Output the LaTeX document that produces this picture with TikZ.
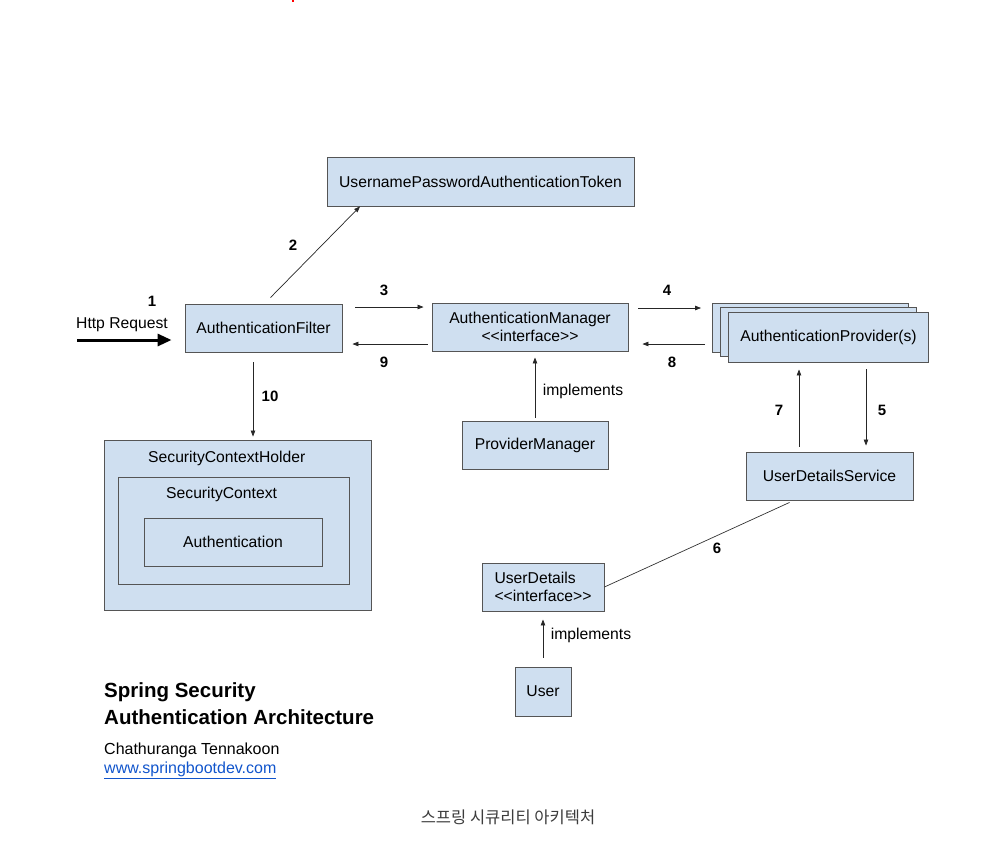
\documentclass[tikz,border=0pt]{standalone}
\usepackage{fontspec}
\setmainfont{Liberation Sans}
\newfontfamily\krfont{Noto Sans CJK KR}
\usetikzlibrary{arrows.meta}
\definecolor{boxfill}{RGB}{207,223,240}
\definecolor{boxline}{RGB}{85,85,85}
\definecolor{linkblue}{RGB}{17,85,204}
\definecolor{captiongray}{RGB}{60,60,60}
\begin{document}
\begin{tikzpicture}[x=1pt,y=-1pt,
  box/.style={draw=boxline,fill=boxfill,line width=0.9pt,inner sep=0pt,
    font=\fontsize{15.7}{19}\selectfont,align=center},
  conn/.style={draw=black!85,line width=0.7pt,-{Triangle[length=6pt,width=4.5pt]}},
  plainline/.style={draw=black!80,line width=0.7pt},
  num/.style={font=\bfseries\fontsize{15}{18}\selectfont,inner sep=0pt},
  lbl/.style={font=\fontsize{15.7}{18}\selectfont,inner sep=0pt}]
\useasboundingbox (0,0) rectangle (991,855);

% tiny red mark at top
\fill[red] (292,0) rectangle (294,2);

% boxes
\node[box,minimum width=307pt,minimum height=49pt] (tok) at (480.5,181.5) {UsernamePasswordAuthenticationToken};
\node[box,minimum width=157pt,minimum height=48pt] (filt) at (263.5,328) {AuthenticationFilter};
\node[box,minimum width=196pt,minimum height=48pt] (mgr) at (530,327) {AuthenticationManager\\[-1pt]{<}{<}interface{>}{>}};
\node[box,minimum width=196pt,minimum height=49pt] (provb) at (810.5,327.5) {};
\node[box,minimum width=196pt,minimum height=49pt] (provm) at (818,332) {};
\node[box,minimum width=200pt,minimum height=50pt] (prov) at (828.5,337) {AuthenticationProvider(s)};
\node[box,minimum width=146pt,minimum height=48pt] (pm) at (535,445) {ProviderManager};
\node[box,minimum width=167pt,minimum height=48pt] (uds) at (829.5,476) {UserDetailsService};
\node[box,minimum width=267pt,minimum height=170pt] (sch) at (237.5,525) {};
\node[box,minimum width=231pt,minimum height=107pt] (sc) at (233.5,530.5) {};
\node[box,minimum width=178pt,minimum height=48pt] (auth) at (233,542) {Authentication};
\node[lbl,anchor=west] (schl) at (148,458) {SecurityContextHolder};
\node[lbl,anchor=west] (scl) at (166,494.5) {SecurityContext};
\node[box,minimum width=122pt,minimum height=48pt,align=left] (ud) at (543,587) {UserDetails\\[-1pt]{<}{<}interface{>}{>}};
\node[box,minimum width=56pt,minimum height=49pt] (user) at (543,691.5) {User};

% Http request
\coordinate (req) at (77,340);
\draw[line width=3pt,-{Triangle[length=14pt,width=12pt]},shorten >=13pt] (req) -- (req -| filt.west);
\node[lbl] (httpl) at (122,325) {Http Request};
\node[num] (n1) at (152,301) {1};

% connectors
\draw[conn] ([xshift=7pt,yshift=6pt]filt.north) -- ([xshift=-120.5pt]tok.south);
\node[num] (n2) at (293,245) {2};

\draw[conn,shorten <=13pt,shorten >=8pt] ([yshift=21pt]filt.east) -- ([yshift=21pt]filt.east -| mgr.west);
\node[num] (n3) at (384,290) {3};

\draw[conn,shorten <=4pt,shorten >=10pt] ([yshift=-16pt]filt.east -| mgr.west) -- ([yshift=-16pt]filt.east);
\node[num] (n9) at (384,362) {9};

\draw[conn,shorten <=10pt,shorten >=3pt] ([xshift=-10.5pt]filt.south) -- ([xshift=-10.5pt]filt.south |- sch.north);
\node[num] (n10) at (270,396) {10};

\draw[conn,shorten <=10pt,shorten >=11pt] ([yshift=19pt]mgr.east) -- ([yshift=19pt]mgr.east -| provb.west);
\node[num] (n4) at (667,290) {4};

\draw[conn,shorten <=7pt,shorten >=14pt] ([yshift=-17pt]mgr.east -| provb.west) -- ([yshift=-17pt]mgr.east);
\node[num] (n8) at (672,362) {8};

\draw[conn,shorten <=3pt,shorten >=6pt] (pm.north) -- (pm.north |- mgr.south);
\node[lbl] (impl1) at (583,391) {implements};

\draw[conn,shorten <=5pt,shorten >=7pt] ([xshift=-30.5pt]uds.north) -- ([xshift=-30.5pt]uds.north |- prov.south);
\node[num] (n7) at (779,410) {7};

\draw[conn,shorten <=7pt,shorten >=6pt] ([xshift=36.5pt]uds.north |- prov.south) -- ([xshift=36.5pt]uds.north);
\node[num] (n5) at (882,410) {5};

\draw[plainline] ([xshift=-40pt,yshift=-2pt]uds.south) -- (ud.east);
\node[num] (n6) at (717,548) {6};

\draw[conn,shorten <=9pt,shorten >=8pt] (user.north) -- (user.north |- ud.south);
\node[lbl] (impl2) at (591,635) {implements};

% title block
\node[anchor=west,inner sep=0pt,font=\bfseries\fontsize{20.5}{24}\selectfont] (t1) at (104,692) {Spring Security};
\node[anchor=west,inner sep=0pt,font=\bfseries\fontsize{20.5}{24}\selectfont] (t2) at (104,717) {Authentication Architecture};
\node[anchor=west,inner sep=0pt,font=\fontsize{16}{19}\selectfont] (t3) at (104,750) {Chathuranga Tennakoon};
\node[anchor=west,inner sep=0pt,font=\fontsize{16}{19}\selectfont,text=linkblue] (t4) at (104,770) {\underline{www.springbootdev.com}};

% caption
\node[inner sep=0pt,font=\krfont\fontsize{16.5}{19}\selectfont,text=captiongray] (cap) at (508,817) {스프링 시큐리티 아키텍처};
\end{tikzpicture}
\end{document}
